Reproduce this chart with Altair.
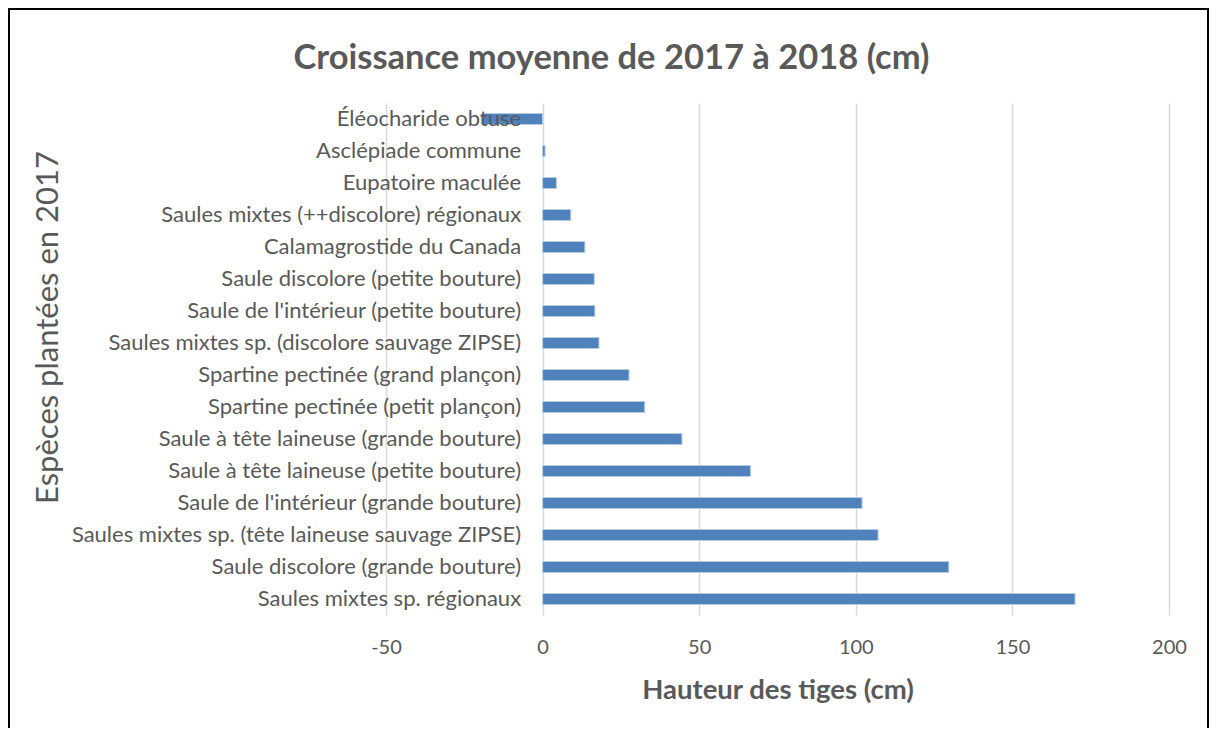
import altair as alt
import pandas as pd

species = [
    "Éléocharide obtuse",
    "Asclépiade commune",
    "Eupatoire maculée",
    "Saules mixtes (++discolore) régionaux",
    "Calamagrostide du Canada",
    "Saule discolore (petite bouture)",
    "Saule de l'intérieur (petite bouture)",
    "Saules mixtes sp. (discolore sauvage ZIPSE)",
    "Spartine pectinée (grand plançon)",
    "Spartine pectinée (petit plançon)",
    "Saule à tête laineuse (grande bouture)",
    "Saule à tête laineuse (petite bouture)",
    "Saule de l'intérieur (grande bouture)",
    "Saules mixtes sp. (tête laineuse sauvage ZIPSE)",
    "Saule discolore (grande bouture)",
    "Saules mixtes sp. régionaux",
]
growth = [-19.6, 0.8, 4.4, 9.0, 13.5, 16.5, 16.7, 18.0, 27.6, 32.6, 44.5, 66.4,
          102.0, 107.1, 129.7, 170.0]
x_ticks = [-50, 0, 50, 100, 150, 200]

df = pd.DataFrame({"espece": species, "croissance": growth})

W, H = 783, 512
PL, PT, PR, PB = 378, 95, 40, 113
FONT = "Lato"
GRAY = "#595959"
AX_OFF = -W * 50 / 250

bars = alt.Chart(df).mark_bar(
    color="#4F81BD", stroke="#B9CDE5", strokeWidth=1, size=11
).encode(
    x=alt.X(
        "croissance:Q",
        scale=alt.Scale(domain=[-50, 200], nice=False, zero=False),
        axis=alt.Axis(
            values=x_ticks, title="Hauteur des tiges (cm)", grid=True,
            gridColor="#D9D9D9", gridWidth=1.5, domain=False, ticks=False,
            labelFlush=False, labelExpr="'' + datum.value",
            labelFontSize=20, labelColor=GRAY, labelFont=FONT, labelPadding=22,
            titleFontSize=27.5, titleFontWeight="bold", titleColor=GRAY,
            titleFont=FONT, titlePadding=19,
        ),
    ),
    y=alt.Y(
        "espece:N", sort=species,
        scale=alt.Scale(paddingInner=0.65, paddingOuter=0.325),
        axis=alt.Axis(
            title="Espèces plantées en 2017", offset=AX_OFF, domain=False,
            ticks=False, grid=False, labelPadding=22, labelFontSize=22,
            labelColor=GRAY, labelFont=FONT, labelLimit=700, zindex=1,
            titleFontSize=31, titleFontWeight="normal", titleColor=GRAY,
            titleFont=FONT, titleAngle=-90, titleBaseline="alphabetic",
            titleAlign="center", titleX=58 - 386 + AX_OFF, titleY=224,
        ),
    ),
)

border = alt.Chart(pd.DataFrame({"b": [0]})).mark_rect(
    fill=None, stroke="black", strokeWidth=2
).encode(
    x=alt.value(-PL + 1), x2=alt.value(W + PR - 1),
    y=alt.value(-PT + 1), y2=alt.value(H + PB + 20),
)

chart = alt.layer(bars, border).properties(
    width=W, height=H,
    autosize=alt.AutoSizeParams(type="none"),
    padding={"left": PL, "top": PT, "right": PR, "bottom": PB},
    title=alt.TitleParams(
        "Croissance moyenne de 2017 à 2018 (cm)", fontSize=34.5,
        fontWeight="bold", color=GRAY, font=FONT, anchor="middle",
        offset=0, dy=68, dx=-166,
    ),
).configure_view(stroke=None)

chart.save("out.html", embed_options={"renderer": "svg", "actions": False})
